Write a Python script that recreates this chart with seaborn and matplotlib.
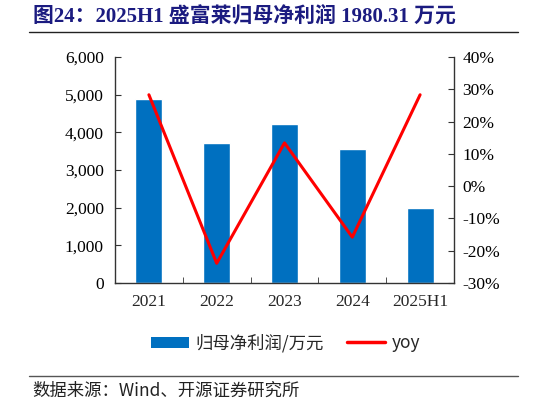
import matplotlib
matplotlib.use("Agg")
import matplotlib.pyplot as plt
import seaborn as sns
import numpy as np
import pandas as pd
from matplotlib.lines import Line2D
from matplotlib.patches import Patch
from matplotlib.ticker import FuncFormatter, FixedLocator

# data
periods = ["2021", "2022", "2023", "2024", "2025H1"]
profit = [4890, 3722, 4220, 3555, 1980.31]   # 归母净利润, 万元
yoy = [28.3, -23.9, 13.4, -15.8, 28.3]       # %

bar_color = "#0070C0"
line_color = "#FF0000"
serif = ["Liberation Serif", "Noto Sans CJK SC"]
cjk = ["Noto Sans CJK SC", "DejaVu Sans"]

sns.set_style("white")
plt.rcParams["font.family"] = serif
plt.rcParams["axes.unicode_minus"] = False

df = pd.DataFrame({"period": periods, "profit": profit, "yoy": yoy})

fig = plt.figure(figsize=(5.46, 4.05), dpi=100)
ax = fig.add_axes([115 / 546, 1 - 283 / 405, 339 / 546, 226 / 405])

sns.barplot(data=df, x="period", y="profit", color=bar_color, width=0.4,
            saturation=1, ax=ax, zorder=2)
ax.set_xlim(-0.5, len(periods) - 0.5)
ax.set_ylim(0, 6000)
ax.set_yticks(np.arange(0, 6001, 1000))
ax.yaxis.set_major_formatter(FuncFormatter(lambda v, p: f"{int(v):,}"))
ax.set_xlabel("")
ax.set_ylabel("")

ax2 = ax.twinx()
sns.lineplot(x=np.arange(len(periods)), y=df["yoy"], color=line_color,
             linewidth=2.2, ax=ax2, zorder=3)
ax2.set_ylim(-30, 40)
ax2.set_yticks(np.arange(-30, 41, 10))
ax2.yaxis.set_major_formatter(FuncFormatter(lambda v, p: f"{int(v)}%"))
ax2.set_ylabel("")
ax2.set_xlim(-0.5, len(periods) - 0.5)

for a in (ax, ax2):
    for s in a.spines.values():
        s.set_color("#333333")
        s.set_linewidth(1.0)
    a.spines["top"].set_visible(False)

ax.spines["right"].set_visible(False)
ax2.spines["left"].set_visible(False)
ax2.spines["bottom"].set_visible(False)

ax.tick_params(axis="y", direction="in", length=4, labelsize=12.5, pad=8,
               colors="#333333", labelcolor="black", left=True)
ax.tick_params(axis="x", which="major", length=0, labelsize=12.5, pad=8)
ax.xaxis.set_minor_locator(FixedLocator(np.arange(0.5, len(periods) - 1, 1)))
ax.tick_params(axis="x", which="minor", direction="in", length=4,
               colors="#333333", bottom=True)
ax2.tick_params(axis="y", direction="in", length=4, labelsize=12.5, pad=6,
                colors="#333333", labelcolor="black", right=True)

# title and rules
fig.text(33 / 546, 1 - 16 / 405, "图24：2025H1 盛富莱归母净利润 1980.31 万元",
         fontsize=15, fontweight="bold", color="#1B1B80", va="center",
         family=serif)
fig.add_artist(Line2D([29 / 546, 518 / 546], [1 - 32 / 405] * 2,
                      transform=fig.transFigure, color="#222222", linewidth=1))
fig.add_artist(Line2D([29 / 546, 518 / 546], [1 - 376 / 405] * 2,
                      transform=fig.transFigure, color="#555555", linewidth=1))
fig.text(32 / 546, 1 - 391 / 405, "数据来源：Wind、开源证券研究所",
         fontsize=12.5, va="center", family=cjk, color="#222222")

handles = [Patch(facecolor=bar_color, edgecolor="none", label="归母净利润/万元"),
           Line2D([0], [0], color=line_color, linewidth=2.5, label="yoy")]
leg = fig.legend(handles=handles, loc="center", ncol=2,
                 bbox_to_anchor=(0.523, 1 - 343 / 405), frameon=False,
                 prop={"family": cjk, "size": 12.5}, handlelength=2.2,
                 handleheight=0.6, columnspacing=1.3, handletextpad=0.4)

fig.savefig("out.png", dpi=100)
